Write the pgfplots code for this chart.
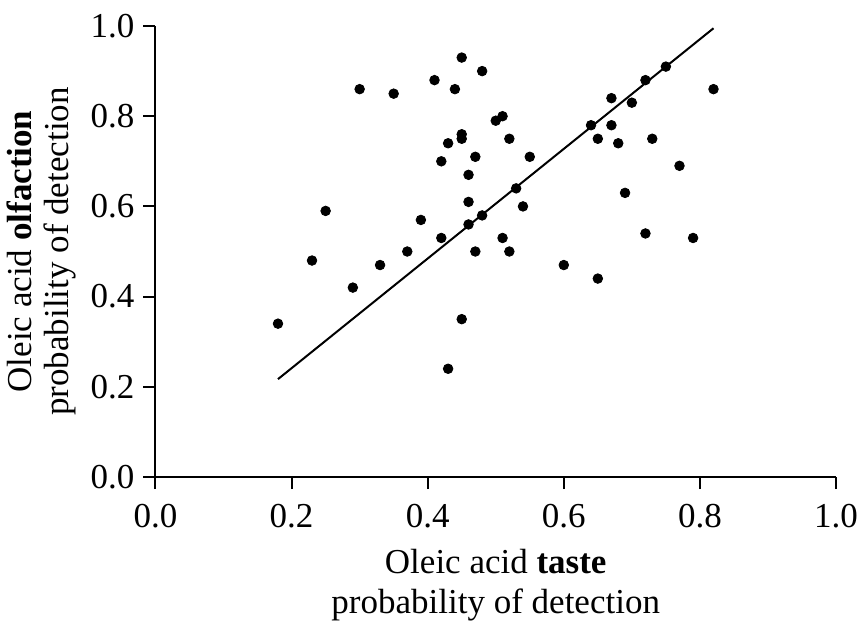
\documentclass[border=0pt]{standalone}
\usepackage{pgfplots}
\pgfplotsset{compat=1.18}
\usepackage{fontspec}
\setmainfont{Liberation Serif}
\begin{document}
\begin{tikzpicture}
\begin{axis}[
  scale only axis,
  width=340.25pt, height=225.5pt,
  xmin=0, xmax=1, ymin=0, ymax=1,
  axis x line*=bottom, axis y line*=left,
  axis line style={line width=1pt, -},
  xtick={0,0.2,...,1.0}, ytick={0,0.2,...,1.0},
  tick align=outside, major tick length=6pt,
  tick style={line width=1pt, black},
  /pgf/number format/assume math mode=true,
  /pgf/number format/fixed, /pgf/number format/fixed zerofill,
  /pgf/number format/precision=1,
  ticklabel style={font=\fontsize{17.5}{20}\selectfont},
  xticklabel style={yshift=-4pt},
  yticklabel style={xshift=-1pt},
  xlabel={Oleic acid \textbf{taste}\\probability of detection},
  ylabel={Oleic acid \textbf{olfaction}\\probability of detection},
  every axis x label/.style={at={(axis description cs:0.5,-0.239)}, anchor=center, align=center, font=\fontsize{17.5}{20}\selectfont},
  every axis y label/.style={at={(axis description cs:-0.167,0.5)}, anchor=center, rotate=90, align=center, font=\fontsize{17.5}{18.5}\selectfont},
  clip=false,
]
\addplot[only marks, mark=*, mark size=2.4pt, black] coordinates {
(0.18,0.34)(0.23,0.48)(0.25,0.59)(0.29,0.42)(0.30,0.86)(0.33,0.47)(0.35,0.85)
(0.37,0.50)(0.39,0.57)(0.41,0.88)(0.42,0.70)(0.42,0.53)(0.43,0.74)(0.43,0.24)
(0.44,0.86)(0.45,0.93)(0.45,0.76)(0.45,0.75)(0.45,0.35)(0.46,0.67)(0.46,0.61)
(0.46,0.56)(0.47,0.71)(0.47,0.50)(0.48,0.90)(0.48,0.58)(0.50,0.79)(0.51,0.80)
(0.51,0.53)(0.52,0.75)(0.52,0.50)(0.53,0.64)(0.54,0.60)(0.55,0.71)(0.60,0.47)
(0.64,0.78)(0.65,0.75)(0.65,0.44)(0.67,0.84)(0.67,0.78)(0.68,0.74)(0.69,0.63)
(0.70,0.83)(0.72,0.88)(0.72,0.54)(0.73,0.75)(0.75,0.91)(0.77,0.69)(0.79,0.53)
(0.82,0.86)
};
\addplot[black, line width=1pt] coordinates {(0.18,0.217)(0.82,0.995)};
\end{axis}
\pgfresetboundingbox
\path[use as bounding box] (-77.75pt,-73pt) rectangle (351.25pt,238.5pt);
\end{tikzpicture}
\end{document}
